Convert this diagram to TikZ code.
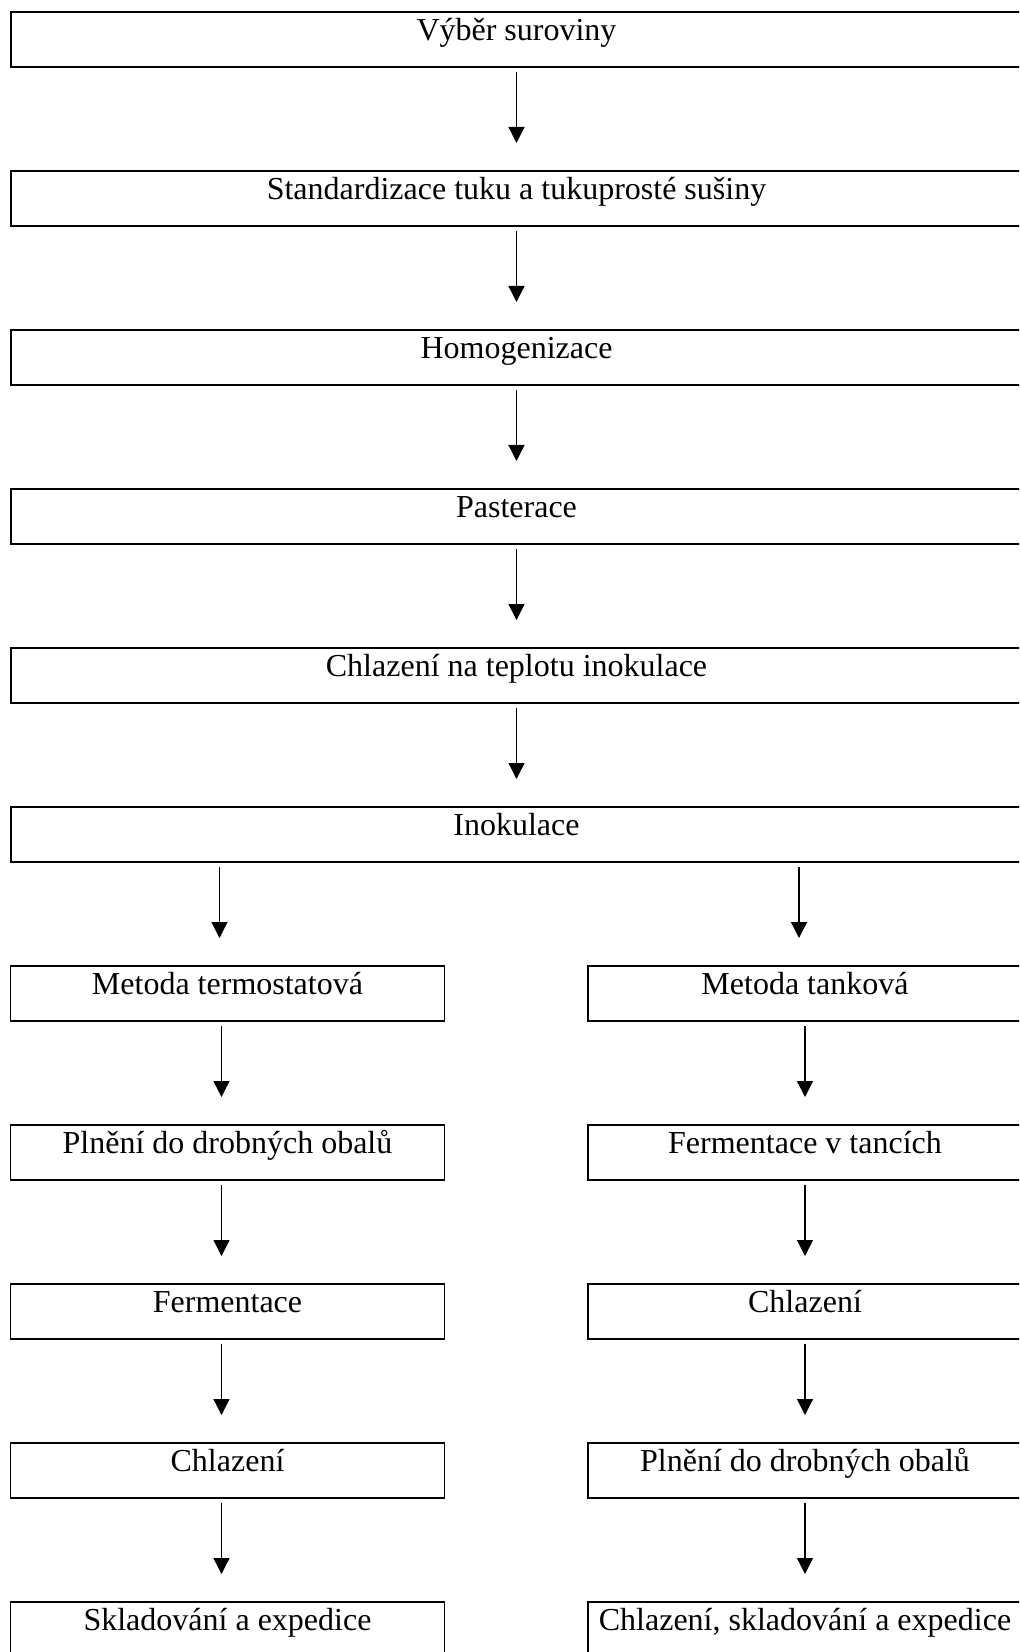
\documentclass[tikz,border=0pt]{standalone}
\usepackage{fontspec}
\setmainfont{Liberation Serif}
\usetikzlibrary{arrows.meta,positioning}

\tikzset{
  stepbox/.style={draw, line width=0.85pt, anchor=north, inner xsep=0pt, inner ysep=0pt,
    font=\fontsize{16}{19}\selectfont, text height=14.5pt, text depth=13pt},
  mainbox/.style={stepbox, minimum width=505.5pt},
  sidebox/.style={stepbox, minimum width=217pt},
  flow/.style={-{Triangle[width=8pt,length=8pt]}, line width=0.65pt, shorten <=2pt, shorten >=13.5pt}
}

\begin{document}
\begin{tikzpicture}[x=0.5pt,y=-0.5pt]
        \useasboundingbox (0,0) rectangle (1019,1652);
        \clip (0,0) rectangle (1019,1652);
        \fill[white] (0,0) rectangle (1019,1652);
        % main column
        \node[mainbox] (vyber) at (516.5,11)  {Výběr suroviny};
        \node[mainbox] (stand) at (516.5,170) {Standardizace tuku a tukuprosté sušiny};
        \node[mainbox] (homog) at (516.5,329) {Homogenizace};
        \node[mainbox] (paster) at (516.5,488) {Pasterace};
        \node[mainbox] (chlInok) at (516.5,647) {Chlazení na teplotu inokulace};
        \node[mainbox] (inok) at (516.5,806) {Inokulace};
        % left branch
        \node[sidebox] (metT) at (227.5,965)  {Metoda termostatová};
        \node[sidebox] (plnT) at (227.5,1124) {Plnění do drobných obalů};
        \node[sidebox] (fermT) at (227.5,1283) {Fermentace};
        \node[sidebox] (chlT) at (227.5,1442) {Chlazení};
        \node[sidebox] (sklT) at (227.5,1601) {Skladování a expedice};
        % right branch
        \node[sidebox] (metK) at (805,965)  {Metoda tanková};
        \node[sidebox] (fermK) at (805,1124) {Fermentace v tancích};
        \node[sidebox] (chlK) at (805,1283) {Chlazení};
        \node[sidebox] (plnK) at (805,1442) {Plnění do drobných obalů};
        \node[sidebox] (sklK) at (805,1601) {Chlazení, skladování a expedice};
        % arrows
        \draw[flow] (vyber.south) -- (stand.north);
        \draw[flow] (stand.south) -- (homog.north);
        \draw[flow] (homog.south) -- (paster.north);
        \draw[flow] (paster.south) -- (chlInok.north);
        \draw[flow] (chlInok.south) -- (inok.north);
        \draw[flow] ([xshift=-4pt]inok.south -| metT.north) -- ([xshift=-4pt]metT.north);
        \draw[flow] ([xshift=-3pt]inok.south -| metK.north) -- ([xshift=-3pt]metK.north);
        \draw[flow] ([xshift=-3pt]metT.south) -- ([xshift=-3pt]plnT.north);
        \draw[flow] ([xshift=-3pt]plnT.south) -- ([xshift=-3pt]fermT.north);
        \draw[flow] ([xshift=-3pt]fermT.south) -- ([xshift=-3pt]chlT.north);
        \draw[flow] ([xshift=-3pt]chlT.south) -- ([xshift=-3pt]sklT.north);
        \draw[flow] (metK.south) -- (fermK.north);
        \draw[flow] (fermK.south) -- (chlK.north);
        \draw[flow] (chlK.south) -- (plnK.north);
        \draw[flow] (plnK.south) -- (sklK.north);
      \end{tikzpicture}
\end{document}
